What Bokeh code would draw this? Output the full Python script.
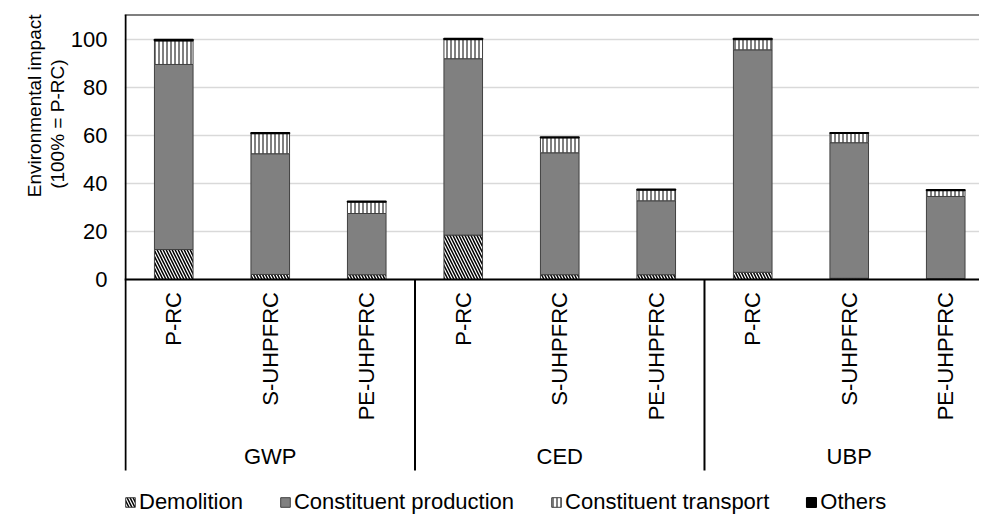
import math
from bokeh.plotting import figure
from bokeh.models import (ColumnDataSource, FixedTicker, Span, Title, Legend,
                          LegendItem, Range1d)
from bokeh.core.properties import value
from bokeh.embed import file_html
from bokeh.resources import INLINE

# ---- data ----
indicators = ["GWP", "CED", "UBP"]
variants = ["P-RC", "S-UHPFRC", "PE-UHPFRC"]
series_names = ["Demolition", "Constituent production", "Constituent transport", "Others"]
demolition = [12.5, 2.1, 2.0, 18.5, 2.0, 2.0, 3.0, 0.5, 0.4]
production = [77.1, 50.3, 25.5, 73.5, 50.8, 30.8, 92.7, 56.5, 34.2]
transport = [9.9, 8.4, 4.8, 8.0, 6.3, 4.5, 4.3, 3.9, 2.5]
others = [0.5, 0.3, 0.3, 0.4, 0.3, 0.3, 0.4, 0.3, 0.3]
y_ticks = [0, 20, 40, 60, 80, 100]

FONT = "Liberation Sans"

n_var = len(variants)
cats = [(ind, v) for ind in indicators for v in variants]
xpos = [i + 0.5 for i in range(len(cats))]

source = ColumnDataSource(dict(
    x=xpos,
    Demolition=demolition,
    Production=production,
    Transport=transport,
    Others=others,
    label=[c[1] for c in cats],
))

y_end = 110.42          # top of plot area
y_axis_bottom = -79.58  # where the category axis ends
y_start = -98.33        # frame extends down to hold the legend
x_start = -0.0104
p = figure(frame_width=855, frame_height=501,
           x_range=Range1d(x_start, len(cats) - 0.15), y_range=Range1d(y_start, y_end),
           output_backend="svg", toolbar_location=None,
           min_border_left=124, min_border_right=0, min_border_top=14,
           min_border_bottom=0)
p.background_fill_color = "white"
p.border_fill_color = "white"
p.outline_line_color = None

# axes
p.xaxis.visible = False
p.xgrid.visible = False
yax = p.yaxis[0]
yax.ticker = FixedTicker(ticks=y_ticks)
yax.major_tick_line_color = None
yax.minor_tick_line_color = None
yax.major_tick_out = 0
yax.major_tick_in = 0
yax.axis_line_color = None
yax.major_label_text_font = FONT
yax.major_label_text_font_size = "22px"
yax.major_label_text_color = "black"
yax.major_label_standoff = 17
p.ygrid.ticker = FixedTicker(ticks=y_ticks)
p.ygrid.grid_line_color = "#d9d9d9"
p.ygrid.grid_line_width = 1.5

renderers = p.vbar_stack(
    ["Demolition", "Production", "Transport", "Others"], x="x", width=0.4,
    source=source,
    fill_color=["white", "#808080", "white", "black"],
    hatch_pattern=["\\", " ", "|", " "],
    hatch_color=["black", "black", "black", "black"],
    hatch_scale=[6, 6, 4, 6],
    hatch_weight=[1.5, 1, 1, 1],
    line_color=["#404040", "#404040", "#404040", "black"],
    line_width=[1, 1, 1, 1.5],
)

# axis lines and category axis drawn manually
p.add_layout(Span(location=0, dimension="width", line_color="black", line_width=2))
p.add_layout(Span(location=y_end, dimension="width", line_color="black", line_width=2))
sep_x = [k * n_var for k in range(0, len(indicators))]
sep_top = [y_end] + [0] * (len(indicators) - 1)
p.segment(x0=sep_x, x1=sep_x, y0=sep_top, y1=[y_axis_bottom] * len(sep_x),
          line_color="black", line_width=2)

p.text(x="x", y=-5.2, text="label", source=source, angle=math.pi / 2,
       text_align="right", text_baseline="middle", text_font=value(FONT),
       text_font_size="22px", text_color="black")

grp_x = [k * n_var + n_var / 2 for k in range(len(indicators))]
p.text(x=grp_x, y=[-73.8] * len(grp_x), text=indicators,
       text_align="center", text_baseline="middle", text_font=value(FONT),
       text_font_size="22px", text_color="black")

# y axis title (two lines, placed near the top as in the reference)
for txt, off in [("(100% = P-RC)", 45), ("Environmental impact", 0)]:
    p.add_layout(Title(text=txt, align="right", offset=off, standoff=0,
                       text_font=FONT, text_font_size="19px",
                       text_font_style="normal", text_color="black"), "left")

legend = Legend(items=[LegendItem(label=n, renderers=[r])
                       for n, r in zip(series_names, renderers)],
                orientation="horizontal", location=(0, 0))
legend.glyph_width = 12
legend.glyph_height = 12
legend.label_standoff = 3
legend.spacing = 36
legend.padding = 0
legend.margin = 0
legend.border_line_color = None
legend.background_fill_alpha = 0
legend.label_text_font = FONT
legend.label_text_font_size = "22px"
legend.label_text_color = "black"
p.add_layout(legend)

open("out.html", "w").write(file_html(p, INLINE))
